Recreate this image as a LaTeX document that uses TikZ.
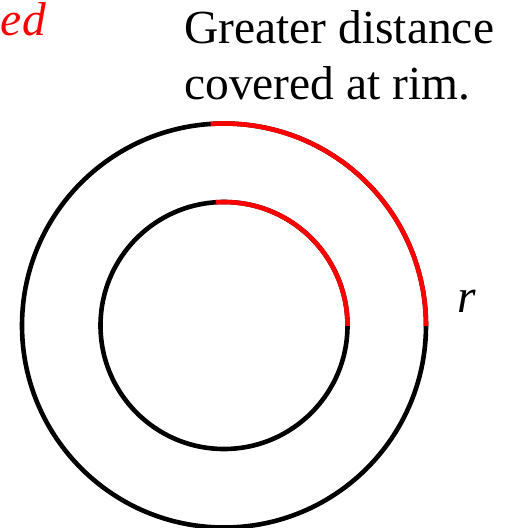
\documentclass[tikz,border=0pt]{standalone}
\usepackage{fontspec}
\setmainfont{Liberation Serif}
\usetikzlibrary{positioning,calc}
\definecolor{Rim}{HTML}{FF0000}

\begin{document}
\begin{tikzpicture}[
  x=1pt,y=1pt,
  every node/.style={font=\fontsize{47.5}{57}\selectfont,inner sep=0pt},
  ring/.style={line width=4.6pt,draw=black},
  arcred/.style={line width=4.6pt,draw=Rim},
  note/.style={anchor=base west},
  speedtext/.style={anchor=base east,text=Rim,font=\fontsize{47.5}{57}\selectfont\itshape}
]
\useasboundingbox (0,0) rectangle (512,-528);
\coordinate (hub) at (224,-325.5);
% wheel: rim and inner ring
\draw[ring] (hub) circle[radius=202];
\draw[ring] (hub) circle[radius=123.5];
\draw[arcred] (hub) ++(-0.2:202) arc[start angle=-0.2,end angle=93.8,radius=202];
\draw[arcred] (hub) ++(-0.2:123.5) arc[start angle=-0.2,end angle=93.8,radius=123.5];
% labels
\node[speedtext] (spd) at (46,-35) {ed};
\node[note] (gd) at (184,-43.5) {Greater distance};
\node[note] (cr) at ([yshift=-56pt]gd.base west) {covered at rim.};
\node[note] (rad) at (457,-312) {\textit{r}};
\end{tikzpicture}
\end{document}
